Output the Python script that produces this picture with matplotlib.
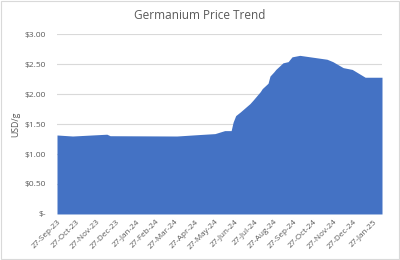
import numpy as np
import pandas as pd
import matplotlib; matplotlib.use("Agg")
import matplotlib.pyplot as plt
import matplotlib.dates as mdates
from matplotlib.patches import Rectangle
from matplotlib.ticker import FuncFormatter

# germanium price, USD/g
dates = pd.to_datetime([
    "2023-09-27", "2023-10-21", "2023-12-13", "2023-12-18", "2024-03-30",
    "2024-05-05", "2024-05-28", "2024-06-12", "2024-06-22", "2024-06-25",
    "2024-06-29", "2024-07-06", "2024-07-21", "2024-07-26", "2024-08-06",
    "2024-08-09", "2024-08-18", "2024-08-21", "2024-08-27", "2024-08-30",
    "2024-09-05", "2024-09-10", "2024-09-18", "2024-09-24", "2024-10-06",
    "2024-11-17", "2024-11-26", "2024-12-12", "2024-12-26", "2025-01-15",
    "2025-02-10",
])
price = [
    1.317, 1.30, 1.33, 1.305, 1.30,
    1.325, 1.34, 1.39, 1.39, 1.53,
    1.64, 1.70, 1.84, 1.90, 2.04,
    2.09, 2.18, 2.30, 2.37, 2.41,
    2.47, 2.52, 2.54, 2.62, 2.645,
    2.58, 2.54, 2.44, 2.41, 2.28,
    2.28,
]
yticks = [0, 0.5, 1.0, 1.5, 2.0, 2.5, 3.0]

GREY = "#595959"
BLUE = "#4472C4"
plt.rcParams.update({"font.family": ["Open Sans", "DejaVu Sans"]})

fig = plt.figure(figsize=(4.0, 2.6), dpi=100)
ax = fig.add_axes([0.1425, 0.177, 0.8125, 0.692])
ax.fill_between(dates, price, 0, color=BLUE, lw=0, zorder=2)
ax.set_xlim(dates[0], dates[-1])
ax.set_ylim(0, 3.0)
ax.set_yticks(yticks)
ax.yaxis.set_major_formatter(FuncFormatter(lambda v, p: "$-" if v == 0 else f"${v:.2f}"))
ax.grid(axis="y", color="#d9d9d9", lw=0.8, zorder=1)
ax.xaxis.set_major_locator(mdates.MonthLocator(bymonthday=27))
ax.xaxis.set_major_formatter(mdates.DateFormatter("%d-%b-%y"))
for s in ax.spines.values():
    s.set_visible(False)
ax.tick_params(axis="y", length=0, labelsize=6, labelcolor=GREY, pad=8)
ax.tick_params(axis="x", length=0, labelsize=5.9, labelcolor=GREY, pad=3)
plt.setp(ax.get_xticklabels(), rotation=45, ha="right", rotation_mode="anchor")
ax.set_ylabel("USD/g", fontsize=6.3, color=GREY, labelpad=3)
fig.text(0.5, 0.94, "Germanium Price Trend", ha="center", va="center", fontsize=8.5, color=GREY)
fig.patches.append(Rectangle((0.002, 0.003), 0.995, 0.993, transform=fig.transFigure,
                             fill=False, ec="#d9d9d9", lw=0.8))
fig.savefig("out.png", dpi=100, facecolor="white")
